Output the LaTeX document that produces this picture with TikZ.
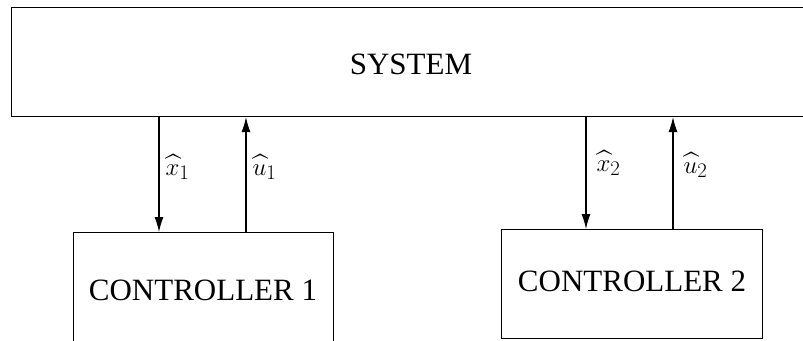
\documentclass[tikz,border=0pt]{standalone}
\usepackage{amsmath, amssymb}
\usepackage{fontspec}
\setmainfont{Liberation Serif}
\usetikzlibrary{arrows.meta}

\tikzset{
  block/.style = {draw, line width=1.1pt, rectangle, inner sep=0pt,
                  font=\fontsize{31}{35}\selectfont},
  sig/.style = {line width=1.1pt, -{Latex[length=15pt, width=9pt]}},
  lab/.style = {font=\fontsize{29}{33}\selectfont, anchor=west, inner sep=0pt}
}

\begin{document}
\begin{tikzpicture}[x=1pt, y=-1pt]
\useasboundingbox (0,0) rectangle (803,340);

\node[block, anchor=north west, minimum width=800pt, minimum height=109pt] (sys) at (11,7) {};
\node[font=\fontsize{31}{35}\selectfont] at (411,64) (systxt) {SYSTEM};
\node[block, anchor=north west, minimum width=260pt, minimum height=116pt] (c1) at (73,232) {};
\node[font=\fontsize{31}{35}\selectfont] at (203,290) (c1txt) {CONTROLLER 1};
\node[block, anchor=north west, minimum width=261pt, minimum height=109pt] (c2) at (501,229) {\strut CONTROLLER 2};

\draw[sig] (sys.south -| 159,0) -- (c1.north -| 159,0) node[lab] at (165,167) {$\widehat{x}_1$};
\draw[sig] (c1.north -| 246,0) -- (sys.south -| 246,0) node[lab] at (252,167) {$\widehat{u}_1$};
\draw[sig] (sys.south -| 586,0) -- (c2.north -| 586,0) node[lab] at (596,163) {$\widehat{x}_2$};
\draw[sig] (c2.north -| 673,0) -- (sys.south -| 673,0) node[lab] at (683,165) {$\widehat{u}_2$};
\end{tikzpicture}
\end{document}
